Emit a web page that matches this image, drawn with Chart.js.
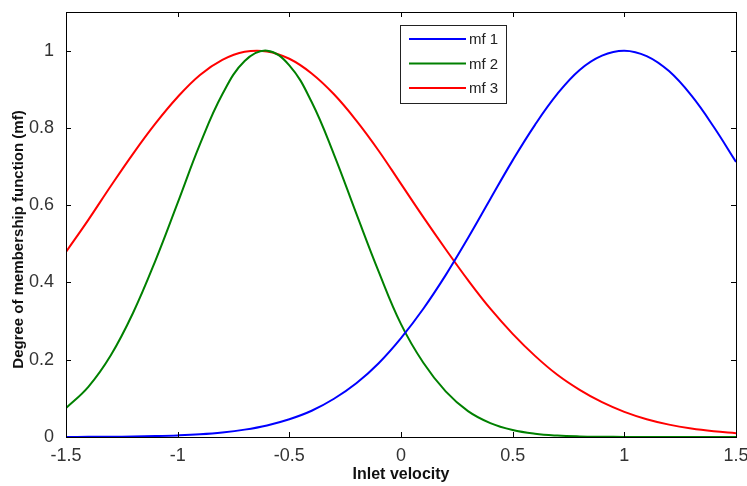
<!DOCTYPE html>
<html>
<head>
<meta charset="utf-8">
<script src="https://cdn.jsdelivr.net/npm/chart.js@4/dist/chart.umd.min.js"></script>
<style>
  html, body { margin: 0; padding: 0; background: #fff; }
  #wrap { width: 747px; height: 486px; position: relative; }
</style>
</head>
<body>
<div id="wrap"><canvas id="c" width="747" height="486"></canvas></div>
<script>
// Inlet velocity sample points
const velocity = [-1.5, -1.4, -1.3, -1.2, -1.1, -1.0, -0.9, -0.8, -0.7, -0.6, -0.5, -0.4, -0.3, -0.2, -0.1,
  0.0, 0.1, 0.2, 0.3, 0.4, 0.5, 0.6, 0.7, 0.8, 0.9, 1.0, 1.1, 1.2, 1.3, 1.4, 1.5];

// Membership degrees for each function
const mf1 = [0.0002, 0.0004, 0.0007, 0.0013, 0.0024, 0.0042, 0.0071, 0.0118, 0.0191, 0.030, 0.046, 0.068, 0.099, 0.139, 0.191,
  0.256, 0.332, 0.419, 0.515, 0.616, 0.716, 0.808, 0.888, 0.950, 0.987, 1.000, 0.986, 0.947, 0.884, 0.803, 0.712];
const mf2 = [0.075, 0.130, 0.211, 0.321, 0.456, 0.606, 0.758, 0.887, 0.973, 1.000, 0.962, 0.867, 0.731, 0.578, 0.428,
  0.292, 0.192, 0.118, 0.067, 0.036, 0.018, 0.0084, 0.0037, 0.0015, 0.0006, 0.0002, 0.0001, 0, 0, 0, 0];
const mf3 = [0.479, 0.562, 0.649, 0.733, 0.811, 0.880, 0.937, 0.976, 0.997, 0.998, 0.979, 0.941, 0.887, 0.819, 0.741,
  0.655, 0.569, 0.486, 0.406, 0.332, 0.267, 0.210, 0.161, 0.122, 0.090, 0.065, 0.046, 0.032, 0.022, 0.015, 0.010];

const seriesNames = ['mf 1', 'mf 2', 'mf 3'];
const seriesColors = ['#0000ff', '#008000', '#ff0000'];

const xTitle = 'Inlet velocity';
const yTitle = 'Degree of membership function (mf)';

const toPoints = vals => velocity.map((x, i) => ({ x: x, y: vals[i] }));
const shortNum = v => String(Number(v.toFixed(2)));
const FONT = '"Liberation Sans", Arial, sans-serif';

// Boxed axes with inward tick marks on all four sides
const boxTicks = {
  id: 'boxTicks',
  afterDatasetsDraw(chart) {
    const { ctx, chartArea: a, scales } = chart;
    const len = 5;
    ctx.save();
    ctx.strokeStyle = '#000';
    ctx.lineWidth = 1;
    ctx.beginPath();
    scales.x.ticks.forEach(t => {
      const px = Math.round(scales.x.getPixelForValue(t.value)) + 0.5;
      ctx.moveTo(px, a.bottom); ctx.lineTo(px, a.bottom - len);
      ctx.moveTo(px, a.top); ctx.lineTo(px, a.top + len);
    });
    scales.y.ticks.forEach(t => {
      const py = Math.round(scales.y.getPixelForValue(t.value)) + 0.5;
      ctx.moveTo(a.left, py); ctx.lineTo(a.left + len, py);
      ctx.moveTo(a.right, py); ctx.lineTo(a.right - len, py);
    });
    ctx.stroke();
    ctx.strokeRect(Math.round(a.left) + 0.5, Math.round(a.top) + 0.5,
      Math.round(a.right - a.left), Math.round(a.bottom - a.top));
    ctx.restore();
  }
};

// Vertical axis title, sitting a little below the plot's middle
const yAxisTitle = {
  id: 'yAxisTitle',
  afterDraw(chart) {
    const { ctx, chartArea: a } = chart;
    ctx.save();
    ctx.translate(19, (a.top + a.bottom) / 2 + 15);
    ctx.rotate(-Math.PI / 2);
    ctx.font = 'bold 15px ' + FONT;
    ctx.fillStyle = '#111';
    ctx.textAlign = 'center';
    ctx.textBaseline = 'middle';
    ctx.fillText(yTitle, 0, 0);
    ctx.restore();
  }
};

// Boxed legend in the upper middle of the plot
const boxLegend = {
  id: 'boxLegend',
  afterDraw(chart) {
    const { ctx } = chart;
    const bx = 400.5, by = 25.5, bw = 106, bh = 78;
    ctx.save();
    ctx.fillStyle = '#fff';
    ctx.fillRect(bx, by, bw, bh);
    ctx.strokeStyle = '#222';
    ctx.lineWidth = 1;
    ctx.strokeRect(bx, by, bw, bh);
    ctx.font = '15px ' + FONT;
    ctx.textBaseline = 'middle';
    chart.data.datasets.forEach((ds, i) => {
      const y = 39 + i * 24.5;
      ctx.strokeStyle = ds.borderColor;
      ctx.lineWidth = 2;
      ctx.beginPath();
      ctx.moveTo(409, y); ctx.lineTo(466, y);
      ctx.stroke();
      ctx.fillStyle = '#222';
      ctx.fillText(ds.label, 469, y + 1);
    });
    ctx.restore();
  }
};

new Chart(document.getElementById('c'), {
  type: 'line',
  data: {
    datasets: [mf1, mf2, mf3].map((vals, i) => ({
      label: seriesNames[i],
      data: toPoints(vals),
      borderColor: seriesColors[i],
      borderWidth: 2,
      pointRadius: 0,
      fill: false,
      tension: 0.4
    }))
  },
  options: {
    responsive: false,
    animation: false,
    layout: { padding: { top: 12, right: 11, left: 0, bottom: 0 } },
    plugins: { legend: { display: false }, tooltip: { enabled: false } },
    scales: {
      x: {
        type: 'linear',
        min: -1.5, max: 1.5,
        grid: { display: false, drawTicks: false },
        border: { display: false },
        ticks: {
          stepSize: 0.5, padding: 8, color: '#333',
          font: { family: FONT, size: 18 },
          callback: v => shortNum(v)
        },
        title: {
          display: true, text: xTitle, color: '#111', padding: { top: 0, bottom: 2 },
          font: { family: FONT, size: 16, weight: 'bold' }
        },
        afterFit(s) { s.height = 49; s.paddingLeft = 0; s.paddingRight = 0; }
      },
      y: {
        type: 'linear',
        min: 0, max: 1.1,
        grid: { display: false, drawTicks: false },
        border: { display: false },
        afterBuildTicks(s) { s.ticks = s.ticks.filter(t => t.value <= 1.0001); },
        ticks: {
          stepSize: 0.2, padding: 12, color: '#333',
          font: { family: FONT, size: 18 },
          callback: v => shortNum(v)
        },
        title: { display: false },
        afterFit(s) { s.width = 66; s.paddingTop = 0; s.paddingBottom = 0; }
      }
    }
  },
  plugins: [boxTicks, yAxisTitle, boxLegend]
});
</script>
</body>
</html>
